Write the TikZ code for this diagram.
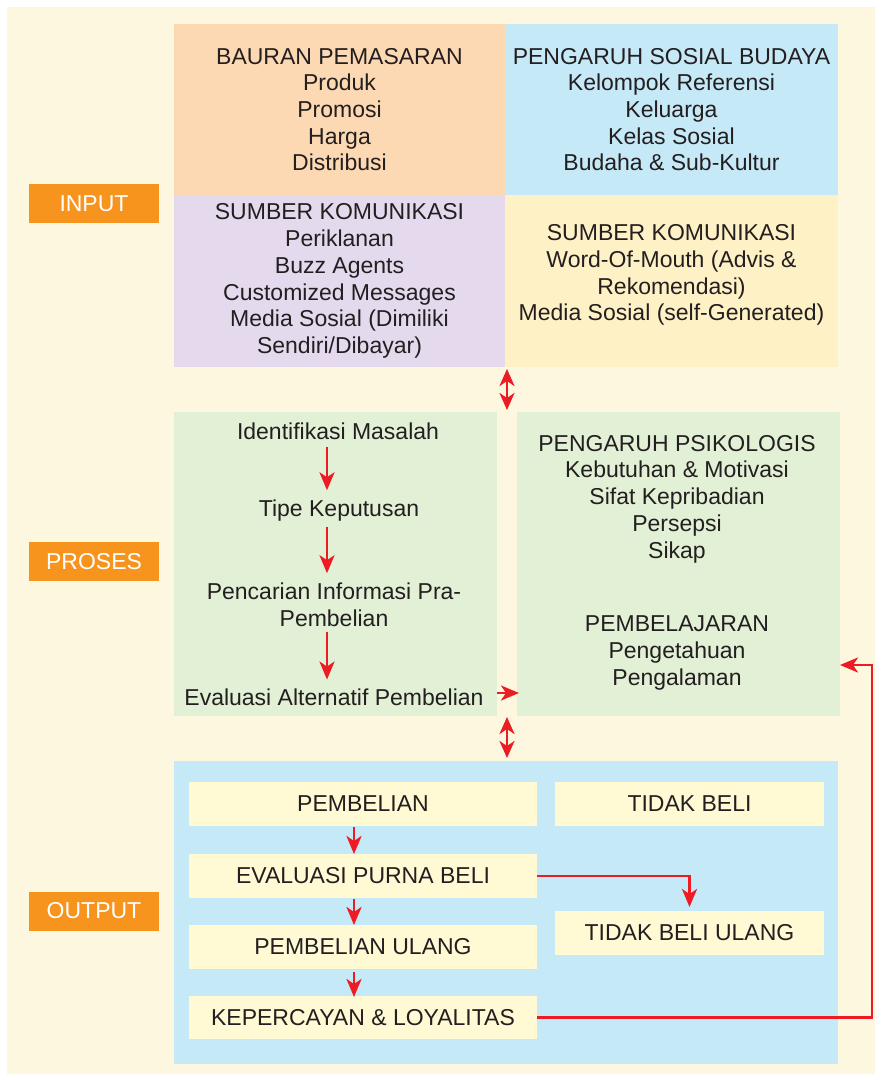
\documentclass[tikz,border=0pt]{standalone}
\usepackage{fontspec}
\setmainfont{Liberation Sans}
\usetikzlibrary{arrows.meta}

\definecolor{cream}{HTML}{FEF7E0}
\definecolor{peach}{HTML}{FDD9B3}
\definecolor{skyblue}{HTML}{C6E9F8}
\definecolor{lilac}{HTML}{E5D9EE}
\definecolor{butter}{HTML}{FFF1C6}
\definecolor{sage}{HTML}{E2F0D6}
\definecolor{paleyellow}{HTML}{FFF9D4}
\definecolor{tagorange}{HTML}{F7941D}
\definecolor{arrowred}{HTML}{ED1C24}
\definecolor{ink}{HTML}{231F20}

\newcommand\dgfont{\fontsize{23}{26.7}\selectfont}

\begin{document}
\begin{tikzpicture}[x=1pt,y=-1pt,
  txt/.style={inner sep=0pt, outer sep=0pt, align=center, text=ink, font=\dgfont},
  panel/.style={txt, minimum width=#1},
  tag/.style={inner sep=0pt, outer sep=0pt, fill=tagorange, text=white, font=\dgfont,
              minimum width=130pt, minimum height=39pt},
  obox/.style={txt, fill=paleyellow, minimum height=44pt},
  arr/.style={draw=arrowred, line width=2.8pt,
              -{Stealth[length=18pt,width=15pt,inset=5pt]}},
  darr/.style={draw=arrowred, line width=2.8pt,
              {Stealth[length=17pt,width=15pt,inset=5pt]}-{Stealth[length=17pt,width=15pt,inset=5pt]}}
]
\useasboundingbox (0,0) rectangle (881,1080);
\fill[white] (0,0) rectangle (881,1080);
\fill[cream] (7,7) rectangle (875,1074);

% ---- input quadrant ----
\node[panel=331pt, fill=peach, minimum height=171pt] (bp) at (339.5,109.5)
  {BAURAN PEMASARAN\\Produk\\Promosi\\Harga\\Distribusi};
\node[panel=333pt, fill=skyblue, minimum height=171pt] (sb) at (671.5,109.5)
  {PENGARUH SOSIAL BUDAYA\\Kelompok Referensi\\Keluarga\\Kelas Sosial\\Budaha \& Sub-Kultur};
\node[panel=331pt, fill=lilac, minimum height=172pt] (sk) at (339.5,281)
  {SUMBER KOMUNIKASI\\Periklanan\\Buzz Agents\\Customized Messages\\Media Sosial (Dimiliki\\Sendiri/Dibayar)};
\node[panel=333pt, fill=butter, minimum height=172pt] (yb) at (671.5,281) {};
\node[txt] (wm) at (671.5,275) {SUMBER KOMUNIKASI\\Word-Of-Mouth (Advis \&\\Rekomendasi)\\Media Sosial (self-Generated)};

% ---- process column ----
\node[panel=323pt, fill=sage, minimum height=304pt] (lg) at (335.5,564) {};
\node[panel=323pt, fill=sage, minimum height=304pt] (rg) at (678.5,564) {};

\node[txt] (p1) at (338,431) {Identifikasi Masalah};
\node[txt] (p2) at (339,511) {Tipe Keputusan};
\node[txt] (p3) at (334,605) {Pencarian Informasi Pra-\\Pembelian};
\node[txt] (p4) at (334,697) {Evaluasi Alternatif Pembelian};

\node[txt] (psi) at (677,499) {PENGARUH PSIKOLOGIS\\Kebutuhan \& Motivasi\\Sifat Kepribadian\\Persepsi\\Sikap};
\node[txt] (bel) at (677,653) {PEMBELAJARAN\\Pengetahuan\\Pengalaman};

% ---- output block ----
\node[panel=664pt, fill=skyblue, minimum height=303pt] (ob) at (506,912.5) {};
\node[obox, minimum width=348pt] (pb) at (363,804) {PEMBELIAN};
\node[obox, minimum width=348pt] (ev) at (363,876) {EVALUASI PURNA BELI};
\node[obox, minimum width=348pt] (pu) at (363,947) {PEMBELIAN ULANG};
\node[obox, minimum width=348pt, minimum height=43pt] (kl) at (363,1017.5) {KEPERCAYAN \& LOYALITAS};
\node[obox, minimum width=269pt] (tb) at (689.5,804) {TIDAK BELI};
\node[obox, minimum width=269pt] (tbu) at (689.5,933) {TIDAK BELI ULANG};

% ---- stage tags ----
\node[tag] (tin) at (94,203.5) {INPUT};
\node[tag] (tpr) at (94,561.5) {PROSES};
\node[tag] (tout) at (94,911) {OUTPUT};

% ---- connectors ----
\draw[darr, shorten <=2pt, shorten >=2pt] ([xshift=2pt]sk.south east) -- ([xshift=2pt]sk.south east |- lg.north);
\draw[darr, shorten <=1pt, shorten >=3pt] ([xshift=10pt]lg.south east) -- ([xshift=10pt]lg.south east |- ob.north);

\draw[arr, shorten <=8pt, shorten >=10pt] (p1.south -| 327,0) -- (p2.north -| 327,0);
\draw[arr, shorten <=5pt, shorten >=10pt] (p2.south -| 327,0) -- (p3.north -| 327,0);
\draw[arr, shorten <=5pt, shorten >=9pt] (p3.south -| 327,0) -- (p4.north -| 327,0);
\draw[arr, shorten >=-2pt] (lg.east |- 0,693) -- (rg.west |- 0,693);

\draw[arr, shorten <=1pt] ([xshift=-9pt]pb.south) -- ([xshift=-9pt]ev.north);
\draw[arr, shorten <=1pt] ([xshift=-9pt]ev.south) -- ([xshift=-9pt]pu.north);
\draw[arr, shorten <=3pt, shorten >=-1pt] ([xshift=-9pt]pu.south) -- ([xshift=-9pt]kl.north);

\draw[arr, shorten >=4pt] (ev.east) -| (tbu.north);
\coordinate (fb) at (872,665);
\draw[arr] (kl.east) -| (fb) -- (fb -| rg.east);
\end{tikzpicture}
\end{document}
